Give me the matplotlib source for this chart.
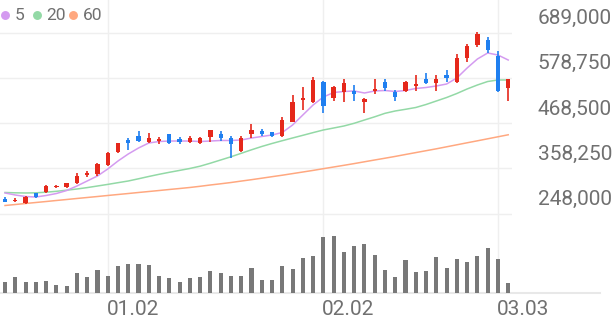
import matplotlib
matplotlib.use('Agg')
import matplotlib.pyplot as plt
from matplotlib.lines import Line2D
import numpy as np

# daily candles (won)
opens = [282600, 278500, 273600, 297200, 299900, 311800, 311800, 321600, 342500, 343500,
         366900, 397800, 428300, 436800, 422900, 425400, 441000, 429500, 422200, 420500,
         433700, 441700, 431200, 400300, 441700, 449000, 445800, 436800, 471700, 524600,
         520400, 568400, 530200, 543300, 547200, 520400, 547200, 569600, 544800, 546500,
         559400, 575700, 565200, 585500, 569100, 627600, 658500, 670700, 631800, 553100]
highs = [288200, 285000, 291100, 298000, 316700, 317400, 323100, 346700, 352300, 371800,
         398600, 420500, 431900, 449800, 444900, 433700, 441700, 434400, 436100, 434400,
         452200, 449000, 437600, 436100, 465300, 453200, 447300, 482400, 536700, 557000,
         581300, 570100, 559400, 575000, 561800, 528700, 575700, 575000, 548900, 570800,
         585500, 589600, 585500, 597600, 635900, 661000, 689500, 678800, 644900, 575000]
lows = [276500, 276500, 270400, 286500, 297200, 310100, 309400, 319200, 337700, 339400,
        364500, 396100, 402700, 421500, 419000, 418100, 417300, 416600, 419000, 418100,
        422200, 424600, 384000, 398600, 432700, 436800, 434400, 433700, 470200, 500200,
        518000, 492100, 522100, 519000, 522800, 492100, 538400, 546500, 522800, 544800,
        547200, 562800, 546500, 569100, 566700, 617900, 654400, 638300, 544800, 522100]
closes = [277200, 280900, 288200, 287000, 315000, 316200, 321600, 339900, 345900, 367900,
          396100, 419000, 419800, 424600, 432700, 430300, 419000, 422900, 432700, 432700,
          450700, 431900, 417300, 431200, 452200, 441700, 436800, 475800, 520400, 530200,
          573300, 509900, 557000, 565200, 538400, 527000, 552100, 553100, 531100, 569100,
          563500, 565200, 575700, 577400, 627600, 656100, 684600, 646400, 546500, 575000]

ma5 = [298000, 293100, 289400, 288200, 291900, 296700, 304000, 315000, 327200, 339400,
       356400, 375900, 393000, 407600, 419800, 423400, 424600, 424600, 424600, 423400,
       424600, 425900, 425900, 427100, 431900, 435600, 439300, 445400, 463600, 488000,
       512400, 531900, 542800, 545300, 546500, 541600, 546500, 547700, 545300, 547700,
       552600, 555000, 558700, 563500, 578200, 602500, 624400, 639100, 634200, 622000]
ma20 = [299200, 298400, 298000, 298400, 299900, 302100, 304800, 307700, 311100, 315000,
        318900, 323100, 327200, 332600, 338200, 343500, 348400, 353000, 357700, 363300,
        370600, 378400, 386200, 394700, 403200, 411300, 418600, 425400, 432000, 438500,
        445100, 451500, 456300, 461200, 467800, 475800, 483600, 492100, 497800, 501900,
        506300, 513600, 522100, 530600, 540400, 551400, 561100, 569600, 573300, 573300]
ma60 = [267500, 269900, 272400, 274800, 277200, 279700, 282100, 284600, 287000, 289400,
        291900, 294300, 296700, 299200, 301600, 304000, 306500, 308900, 311400, 314300,
        317500, 320400, 323500, 327000, 330400, 334000, 337700, 341300, 345200, 349100,
        353000, 357200, 361300, 365400, 369600, 374000, 378400, 382700, 387100, 391800,
        396400, 401000, 405600, 410500, 415400, 420300, 425100, 430000, 434900, 439800]

volume = [117, 160, 117, 110, 123, 83, 73, 200, 167, 233,
          177, 273, 293, 290, 283, 177, 157, 117, 150, 167,
          220, 200, 173, 173, 250, 133, 133, 277, 247, 350,
          373, 560, 573, 410, 473, 490, 383, 233, 167, 333,
          217, 223, 360, 257, 340, 310, 373, 457, 343, 100]

price_ticks = [248000, 358250, 468500, 578750, 689000]
date_idx = [10, 31, 48]
date_labels = ['01.02', '02.02', '03.03']

plt.rcParams['font.family'] = ['Roboto', 'DejaVu Sans']

RED = '#e5281b'
BLUE = '#1f7ff0'
C5, C20, C60 = '#d49bf0', '#93d9a6', '#ffa880'
GRID = '#efefef'
TXT = '#707070'

W, H = 616, 321
fig = plt.figure(figsize=(W / 100, H / 100), dpi=100)
ax = fig.add_axes([0, 1 - 233.3 / H, 512 / W, 233.3 / H])
axv = fig.add_axes([0, (H - 293.3) / H, 512 / W, 60 / H])

x = np.arange(len(opens))
o, c = np.array(opens), np.array(closes)
cols = [RED if cc >= oo else BLUE for oo, cc in zip(o, c)]

xl = (-0.49, 49.37)
for a in (ax, axv):
    a.set_xlim(*xl)
    a.axis('off')
    for i in date_idx:
        a.axvline(i, color=GRID, lw=1, zorder=0)

ax.set_ylim(199760, 768200)
for v in price_ticks:
    ax.axhline(v, color=GRID, lw=1, zorder=0)
    ax.annotate(f'{v:,}', xy=(612 / W, v), xycoords=(fig.transFigure, ax.transData),
                xytext=(0, 14), textcoords='offset pixels', ha='right', va='center',
                fontsize=15, color=TXT)

ax.plot(x, ma60, color=C60, lw=1.1, zorder=2)
ax.plot(x, ma20, color=C20, lw=1.1, zorder=2)
ax.plot(x, ma5, color=C5, lw=1.1, zorder=2)

ax.vlines(x, lows, highs, colors=cols, lw=1.2, zorder=3)
body = np.maximum(np.abs(c - o), 1500)
ax.bar(x, body, bottom=np.minimum(o, c), width=0.42, color=cols, zorder=4)

axv.set_ylim(0, 600)
axv.bar(x, volume, width=0.4, color='#787878', zorder=3)
axv.axhline(0, xmin=0, xmax=600 / 512, color='#e8e8e8', lw=1.5, clip_on=False)
for i, lbl in zip(date_idx, date_labels):
    axv.annotate(lbl, xy=(i, 0), xycoords='data', xytext=(-1, -16),
                 textcoords='offset pixels', ha='left', va='center',
                 fontsize=15, color=TXT)

# legend
for cx, tx, col, lbl in [(5.3, 15, C5, '5'), (36.7, 46, C20, '20'), (73, 82.5, C60, '60')]:
    fig.add_artist(Line2D([cx / W], [1 - 14.7 / H], marker='o', markersize=5.4,
                          color=col, transform=fig.transFigure))
    fig.text(tx / W, 1 - 15 / H, lbl, fontsize=12.5, color=TXT, ha='left', va='center')

fig.savefig('out.png', dpi=100)
